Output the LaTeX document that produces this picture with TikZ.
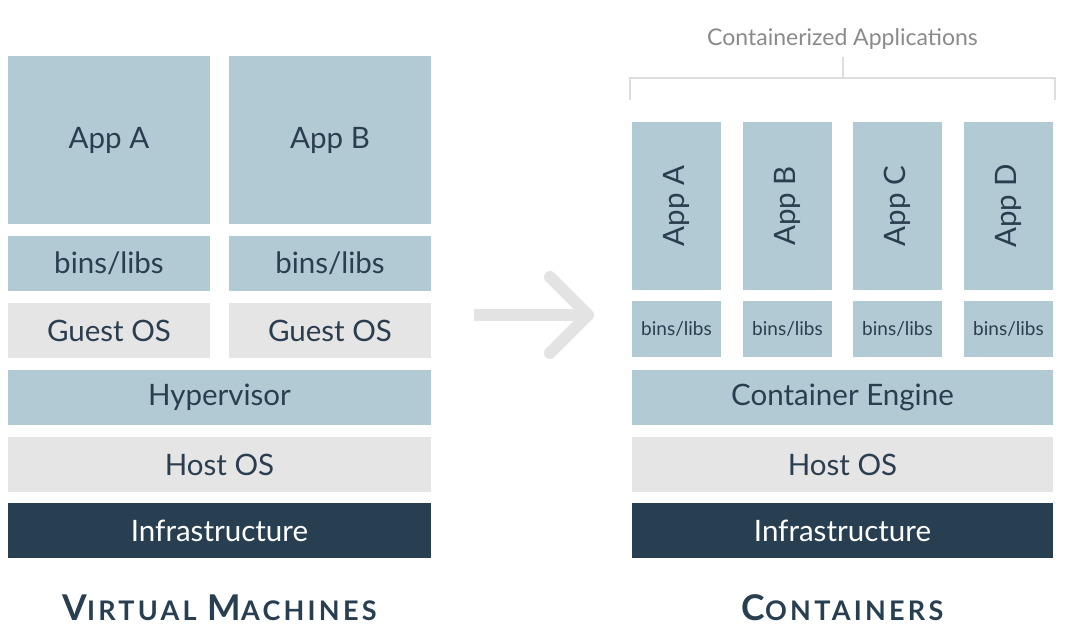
\documentclass[tikz,border=0pt]{standalone}
\usepackage{fontspec}
\setmainfont{Lato}
\definecolor{boxblue}{HTML}{B2CAD4}
\definecolor{boxgray}{HTML}{E5E5E5}
\definecolor{navy}{HTML}{283F52}
\definecolor{txt}{HTML}{2B3E50}
\definecolor{arrowgray}{HTML}{E3E3E3}
\definecolor{brack}{HTML}{DDDDDD}
\definecolor{labgray}{HTML}{8A8A8A}
\newcommand{\bigtxt}{\fontsize{29.5}{34}\selectfont}
\newcommand{\smalltxt}{\fontsize{19}{22}\selectfont}
\newcommand{\titlecaps}[2]{{\fontsize{35.5}{38}\selectfont #1}{\fontsize{27}{30}\selectfont #2}}
\begin{document}
\begin{tikzpicture}[x=1pt,y=-1pt,
  layer/.style={inner sep=0pt, outer sep=0pt, text=txt, font=\bigtxt},
  bluebox/.style={layer, fill=boxblue},
  graybox/.style={layer, fill=boxgray},
  navybox/.style={layer, fill=navy, text=white},
  vmcol/.style={minimum width=202pt},
  wide/.style={minimum width=423pt, minimum height=55pt},
  cwide/.style={minimum width=421pt, minimum height=55pt},
  ccol/.style={minimum width=89pt},
  title/.style={inner sep=0pt, text=navy, font=\fontsize{30}{34}\selectfont\bfseries\addfontfeature{LetterSpace=12}},
]
\useasboundingbox (0,0) rectangle (1066,633);
% ---------- Virtual machines ----------
\node[bluebox, vmcol, minimum height=168pt] (vmA) at (109,140) {App A};
\node[bluebox, vmcol, minimum height=168pt] (vmB) at (330,140) {App B};
\node[bluebox, vmcol, minimum height=55pt] (vmLibA) at (109,263.5) {bins/libs};
\node[bluebox, vmcol, minimum height=55pt] (vmLibB) at (330,263.5) {bins/libs};
\node[graybox, vmcol, minimum height=55pt] (vmOSA) at (109,330.5) {Guest OS};
\node[graybox, vmcol, minimum height=55pt] (vmOSB) at (330,330.5) {Guest OS};
\node[bluebox, wide] (hyper) at (219.5,397.5) {\raisebox{-3pt}{Hypervisor}};
\node[graybox, wide] (vmHost) at (219.5,464.5) {Host OS};
\node[navybox, wide] (vmInfra) at (219.5,530.5) {Infrastructure};
\node[title] (vmTitle) at (219.5,608) {\titlecaps{V}{IRTUAL} \titlecaps{M}{ACHINES}};
% ---------- Containers ----------
\node[bluebox, ccol, minimum height=168pt] (cA) at (676.5,206) {\rotatebox{90}{App A}};
\node[bluebox, ccol, minimum height=168pt] (cB) at (787.5,206) {\rotatebox{90}{App B}};
\node[bluebox, ccol, minimum height=168pt] (cC) at (897.5,206) {\rotatebox{90}{App C}};
\node[bluebox, ccol, minimum height=168pt] (cD) at (1008.5,206) {\rotatebox{90}{App D}};
\node[bluebox, ccol, minimum height=56pt, font=\smalltxt] (cLibA) at (676.5,329) {bins/libs};
\node[bluebox, ccol, minimum height=56pt, font=\smalltxt] (cLibB) at (787.5,329) {bins/libs};
\node[bluebox, ccol, minimum height=56pt, font=\smalltxt] (cLibC) at (897.5,329) {bins/libs};
\node[bluebox, ccol, minimum height=56pt, font=\smalltxt] (cLibD) at (1008.5,329) {bins/libs};
\node[bluebox, cwide] (engine) at (842.5,397.5) {\raisebox{-3pt}{Container Engine}};
\node[graybox, cwide] (cHost) at (842.5,464.5) {Host OS};
\node[navybox, cwide] (cInfra) at (842.5,530.5) {Infrastructure};
\node[title] (cTitle) at (842.5,608) {\titlecaps{C}{ONTAINERS}};
% bracket
\node[inner sep=0pt, text=labgray, font=\fontsize{23}{26}\selectfont] (clab) at (842.5,39) {Containerized Applications};
\coordinate (bl) at (630,100);
\coordinate (br) at (1055,100);
\coordinate (btop) at (842.5,57);
\draw[brack, line width=2pt] (bl) -- (bl |- 0,78) -- (br |- 0,78) -- (br);
\draw[brack, line width=2pt] (btop) -- (btop |- 0,78);
% arrow
\coordinate (arrL) at (474,315);
\coordinate (arrR) at (588,315);
\draw[arrowgray, line width=12pt] (arrL) -- ([xshift=-4pt]arrR);
\draw[arrowgray, line width=12pt, line cap=round, line join=round]
  ([xshift=-38pt,yshift=-38pt]arrR) -- (arrR) -- ([xshift=-38pt,yshift=38pt]arrR);
\end{tikzpicture}
\end{document}
